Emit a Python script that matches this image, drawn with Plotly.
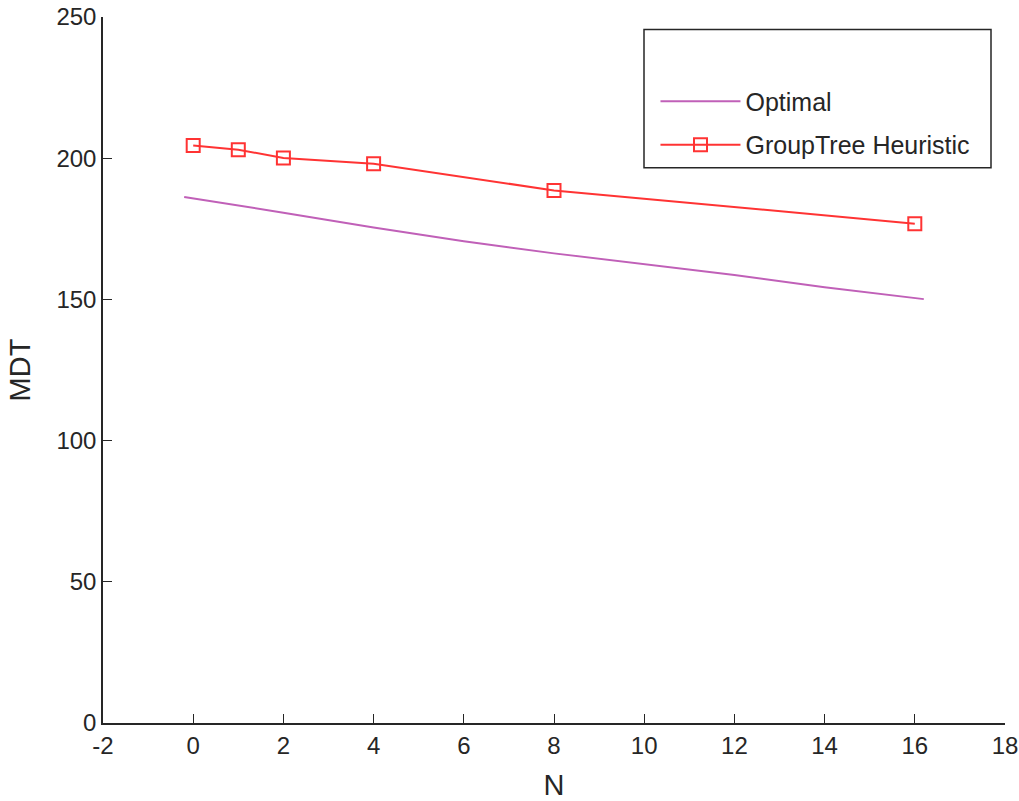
import plotly.graph_objects as go

# Data
opt_x = [-0.2, 0, 2, 4, 6, 8, 10, 12, 14, 16.2]
opt_y = [186.3, 185.8, 180.7, 175.5, 170.6, 166.3, 162.5, 158.6, 154.3, 150.1]

heur_x = [0, 1, 2, 4, 8, 16]
heur_y = [204.5, 203.0, 200.1, 198.0, 188.6, 176.8]

x_ticks = [-2, 0, 2, 4, 6, 8, 10, 12, 14, 16, 18]
y_ticks = [0, 50, 100, 150, 200, 250]

FONT = "Liberation Sans"
TXT = "#262626"

fig = go.Figure()
fig.add_trace(go.Scatter(
    x=opt_x, y=opt_y, mode="lines", name="Optimal",
    line=dict(color="#c060b8", width=2), legendgroup="a"))
fig.add_trace(go.Scatter(
    x=heur_x, y=heur_y, mode="lines+markers", name="GroupTree Heuristic",
    line=dict(color="#ff3333", width=2), legendgroup="b",
    marker=dict(symbol="square-open", size=13, color="#ff3333",
                line=dict(width=2, color="#ff3333"))))

fig.update_layout(
    width=1019, height=801,
    margin=dict(l=103, r=14, t=17, b=78),
    paper_bgcolor="white", plot_bgcolor="white",
    font=dict(family=FONT, size=24, color=TXT),
    showlegend=True,
    legend=dict(x=0.6125, y=0.913, xanchor="left", yanchor="top",
                bgcolor="rgba(0,0,0,0)", borderwidth=0,
                tracegroupgap=8, itemwidth=80,
                font=dict(family=FONT, size=25, color=TXT)),
    xaxis=dict(range=[-2, 18], tickvals=x_ticks, ticktext=[str(v) for v in x_ticks],
               showgrid=False, zeroline=False, showline=True, linecolor="#262626",
               linewidth=1.5, ticks="inside", ticklen=9, tickcolor="#262626",
               title=dict(text="N", standoff=24), automargin=False,
               tickfont=dict(size=24)),
    yaxis=dict(range=[0, 250], tickvals=y_ticks, showgrid=False, zeroline=False,
               showline=True, linecolor="#262626", linewidth=1.5, ticks="inside",
               ticklen=9, tickcolor="#262626", title=dict(text="MDT", standoff=17),
               automargin=False, tickfont=dict(size=24)),
    shapes=[dict(type="rect", xref="paper", yref="paper",
                 x0=(644 - 103) / 902, x1=(991 - 103) / 902,
                 y0=(722.5 - 168) / 705, y1=(722.5 - 30) / 705,
                 line=dict(color="#262626", width=1.5), fillcolor="rgba(0,0,0,0)")],
)

fig.write_html("out.html")
